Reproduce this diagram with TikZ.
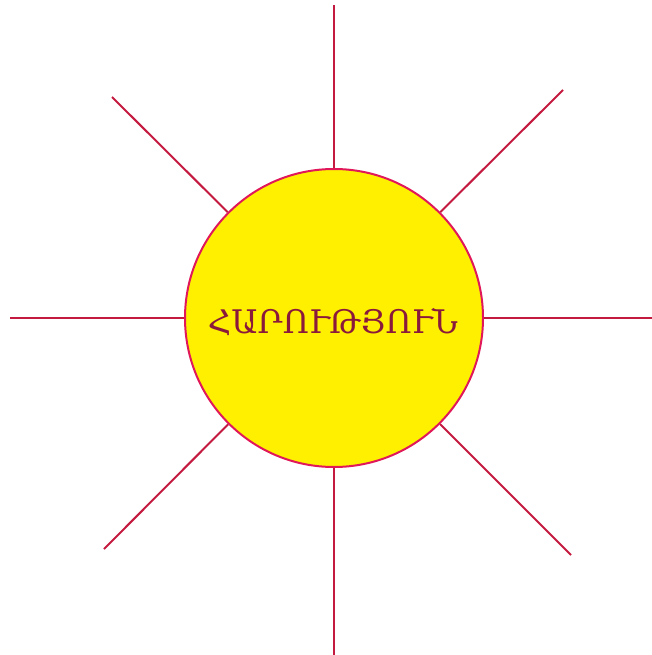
\documentclass[tikz,border=0pt]{standalone}
\usepackage{fontspec}
\newfontfamily\armfont{DejaVu Serif}
\definecolor{raycolor}{HTML}{C41A40}
\definecolor{rimcolor}{HTML}{E0185A}
\definecolor{suncolor}{HTML}{FFF000}
\definecolor{wordcolor}{HTML}{8A1A3C}
\begin{document}
\begin{tikzpicture}[
        x=1pt, y=-1pt,
        sun_node/.style={circle, draw=rimcolor, line width=2pt, fill=suncolor, minimum size=298pt, inner sep=0pt},
        ray_line/.style={draw=raycolor, line width=2pt},
        word_label/.style={font=\armfont\fontsize{32.5}{38}\selectfont, text=wordcolor}
    ]
        \useasboundingbox (0,0) rectangle (652,655);
        % Արև
        \node[sun_node] (sun) at (334,318) {};
        \node[word_label] (word) at (333,322) {ՀԱՐՈՒԹՅՈՒՆ};
        % Ճառագայթների ծայրեր
        \coordinate (top) at (334,5);
        \coordinate (bottom) at (334,655);
        \coordinate (left) at (10,318);
        \coordinate (right) at (652,318);
        \coordinate (topleft) at (112,97);
        \coordinate (topright) at (563,90);
        \coordinate (bottomleft) at (104,549);
        \coordinate (bottomright) at (571,555);
        % Ճառագայթներ
        \foreach \end in {top,bottom,left,right,topleft,topright,bottomleft,bottomright}
            \draw[ray_line] (sun) -- (\end);
    \end{tikzpicture}
\end{document}
